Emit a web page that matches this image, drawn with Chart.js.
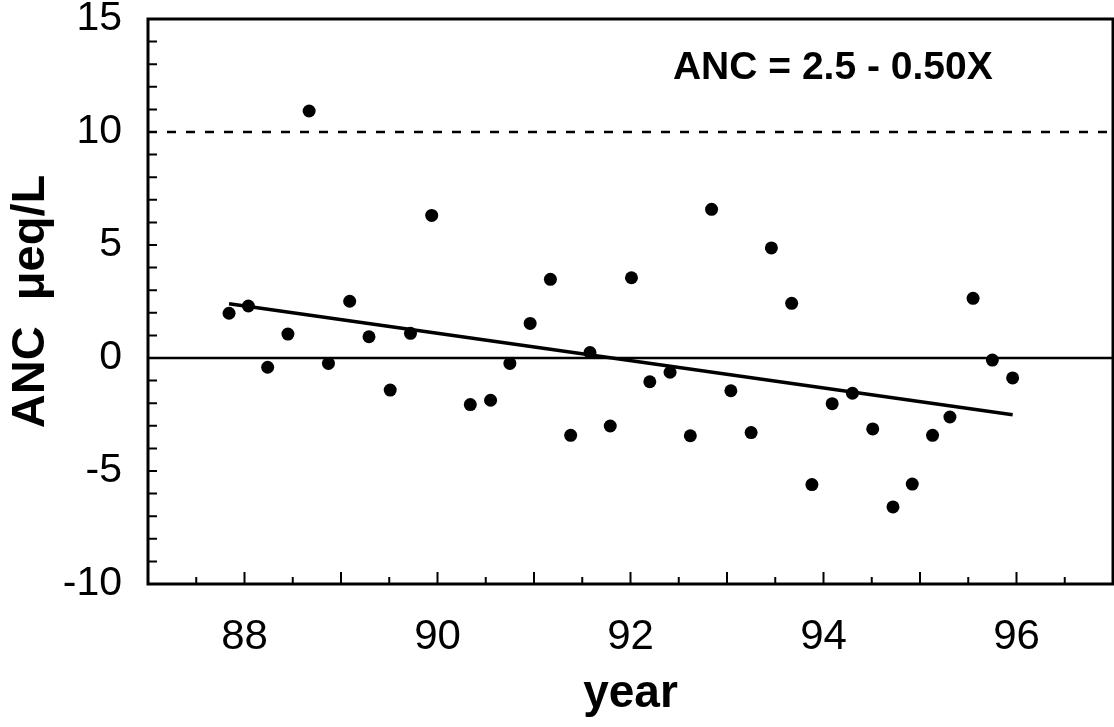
<!DOCTYPE html>
<html>
<head>
<meta charset="utf-8">
<script src="https://cdn.jsdelivr.net/npm/chart.js@4.4.1/dist/chart.umd.min.js"></script>
<style>
  body { margin: 0; background: #fff; }
  canvas { display: block; }
</style>
</head>
<body>
<canvas id="ancChart" width="1114" height="727"></canvas>
<script>
// sample dates (decimal years, 19xx) and ANC in ueq/L
const years = [
  87.84, 88.04, 88.24, 88.45, 88.67, 88.87, 89.09, 89.29, 89.51, 89.72,
  89.94, 90.34, 90.55, 90.75, 90.96, 91.17, 91.38, 91.58, 91.79, 92.01,
  92.20, 92.41, 92.62, 92.84, 93.04, 93.25, 93.46, 93.67, 93.88, 94.09,
  94.30, 94.51, 94.72, 94.92, 95.13, 95.31, 95.55, 95.75, 95.96
];
const ancValues = [
  1.98, 2.30, -0.41, 1.06, 10.93, -0.24, 2.51, 0.94, -1.42, 1.09,
  6.31, -2.06, -1.87, -0.24, 1.53, 3.48, -3.42, 0.24, -3.01, 3.55,
  -1.05, -0.63, -3.44, 6.58, -1.45, -3.30, 4.87, 2.42, -5.60, -2.02,
  -1.56, -3.14, -6.59, -5.58, -3.42, -2.61, 2.64, -0.09, -0.88
];

// regression line end points
const fitYears = [87.84, 95.96];
const fitValues = [2.40, -2.51];

// reference lines
const refYears = [87, 97];
const zeroValue = 0;
const limitValue = 10;

const xTickLabels = [88, 90, 92, 94, 96];
const yTickLabels = [-10, -5, 0, 5, 10, 15];

const equationText = 'ANC = 2.5 - 0.50X';
const equationAt = { x: 92.44, y: 12.35 };

const FONT = "'Liberation Sans', Arial, Helvetica, sans-serif";

const toPoints = (xs, ys) => xs.map((v, i) => ({ x: v, y: Array.isArray(ys) ? ys[i] : ys }));

// box, inward ticks and the fit equation
const framePlugin = {
    id: 'frame',
    afterDraw(chart) {
        const { ctx, chartArea: a, scales: { x, y } } = chart;
        ctx.save();
        ctx.strokeStyle = '#000';
        ctx.lineWidth = 3;
        ctx.strokeRect(a.left, a.top, a.right - a.left, a.bottom - a.top);

        ctx.lineWidth = 2;
        ctx.beginPath();
        for (let v = y.min; v <= y.max; v += 1) {
            const py = y.getPixelForValue(v);
            ctx.moveTo(a.left, py);
            ctx.lineTo(a.left + 9, py);
        }
        for (let v = x.min; v <= x.max; v += 0.5) {
            const px = x.getPixelForValue(v);
            const len = Number.isInteger(v) ? 12 : 7;
            ctx.moveTo(px, a.bottom);
            ctx.lineTo(px, a.bottom - len);
        }
        ctx.stroke();

        ctx.fillStyle = '#000';
        ctx.font = 'bold 39px ' + FONT;
        ctx.textAlign = 'left';
        ctx.textBaseline = 'alphabetic';
        ctx.fillText(equationText, x.getPixelForValue(equationAt.x), y.getPixelForValue(equationAt.y));
        ctx.restore();
    }
};

const ctx = document.getElementById('ancChart').getContext('2d');

new Chart(ctx, {
    type: 'scatter',
    data: {
        datasets: [
            {
                label: 'limit',
                type: 'line',
                data: toPoints(refYears, limitValue),
                borderColor: '#000',
                borderWidth: 2.5,
                borderDash: [9, 10],
                pointRadius: 0,
                fill: false
            },
            {
                label: 'zero',
                type: 'line',
                data: toPoints(refYears, zeroValue),
                borderColor: '#000',
                borderWidth: 2.5,
                pointRadius: 0,
                fill: false
            },
            {
                label: 'fit',
                type: 'line',
                data: toPoints(fitYears, fitValues),
                borderColor: '#000',
                borderWidth: 3.5,
                pointRadius: 0,
                fill: false
            },
            {
                label: 'ANC',
                data: toPoints(years, ancValues),
                backgroundColor: '#000',
                borderWidth: 0,
                pointRadius: 6.5
            }
        ]
    },
    options: {
        responsive: false,
        animation: false,
        devicePixelRatio: 1,
        layout: {
            autoPadding: false,
            padding: { top: 19, right: 1, bottom: 0, left: 0 }
        },
        plugins: {
            legend: { display: false },
            tooltip: { enabled: false }
        },
        scales: {
            x: {
                type: 'linear',
                min: 87,
                max: 97,
                grid: { display: false, drawTicks: false },
                border: { display: false },
                afterBuildTicks: (scale) => {
                    scale.ticks = xTickLabels.map(v => ({ value: v }));
                },
                afterFit: (scale) => {
                    scale.height = 143;
                    scale.paddingLeft = 0;
                    scale.paddingRight = 0;
                },
                ticks: {
                    color: '#000',
                    padding: 28,
                    maxRotation: 0,
                    font: { family: FONT, size: 42 }
                },
                title: {
                    display: true,
                    text: 'year',
                    color: '#000',
                    padding: { top: 0, bottom: 5 },
                    font: { family: FONT, size: 46, weight: 'bold' }
                }
            },
            y: {
                type: 'linear',
                min: -10,
                max: 15,
                grid: { display: false, drawTicks: false },
                border: { display: false },
                afterBuildTicks: (scale) => {
                    scale.ticks = yTickLabels.map(v => ({ value: v }));
                },
                afterFit: (scale) => {
                    scale.width = 148;
                    scale.paddingTop = 0;
                    scale.paddingBottom = 0;
                },
                ticks: {
                    color: '#000',
                    padding: 26,
                    font: { family: FONT, size: 41 }
                },
                title: {
                    display: true,
                    text: 'ANC  μeq/L',
                    color: '#000',
                    padding: { top: 3, bottom: 0 },
                    font: { family: FONT, size: 47, weight: 'bold' }
                }
            }
        }
    },
    plugins: [framePlugin]
});
</script>
</body>
</html>
